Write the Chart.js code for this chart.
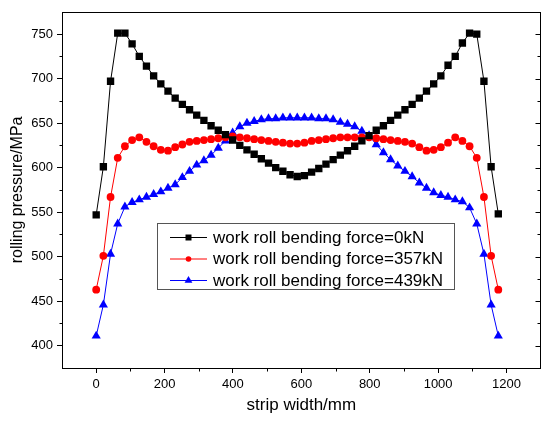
<!DOCTYPE html>
<html>
<head>
<meta charset="utf-8">
<script src="https://cdn.jsdelivr.net/npm/chart.js@4/dist/chart.umd.min.js"></script>
<style>
  body { margin: 0; background: #fff; }
  #wrap { width: 546px; height: 421px; }
</style>
</head>
<body>
<div id="wrap"><canvas id="rolling-pressure" width="546" height="421"></canvas></div>
<script>
// strip width positions (mm)
const widths = [0, 21, 42, 63, 84, 105, 126, 147, 168, 189, 210, 231, 252, 273, 294, 315, 336, 357, 378, 399,
  420, 441, 462, 483, 504, 525, 546, 567, 588, 609, 630, 651, 672, 693, 714, 735, 756, 777, 798, 819,
  840, 861, 882, 903, 924, 945, 966, 987, 1008, 1029, 1050, 1071, 1092, 1113, 1134, 1155, 1176];

// rolling pressure (MPa) for each bending force
const force0 = [547, 601, 697, 751, 751, 739, 725, 714, 703, 694, 686, 678, 671, 665, 659, 653, 647, 642, 637, 631,
  625, 620, 615, 610, 605, 600, 596, 592, 590, 591, 595, 599, 604, 609, 614, 619, 624, 630, 636, 642,
  647, 653, 659, 665, 671, 678, 686, 694, 703, 715, 725, 740, 751, 750, 697, 601, 548];
const force357 = [463, 501, 567, 611, 624, 631, 634, 629, 624, 620, 619, 623, 626, 629, 630, 631, 632, 633, 634, 635,
  634, 633, 632, 631, 630, 629, 628, 627, 627, 628, 630, 631, 632, 633, 634, 634, 634, 634, 634, 633,
  632, 631, 630, 629, 627, 623, 619, 620, 623, 628, 634, 630, 624, 611, 567, 501, 463];
const force439 = [411, 446, 503, 537, 556, 561, 564, 567, 570, 573, 577, 581, 589, 596, 603, 608, 614, 622, 630, 639,
  646, 650, 652, 654, 655, 655, 656, 656, 656, 656, 656, 655, 655, 654, 651, 649, 646, 641, 636, 626,
  617, 609, 602, 596, 590, 583, 577, 572, 569, 567, 564, 562, 555, 537, 503, 446, 411];

const seriesNames = ['work roll bending force=0kN', 'work roll bending force=357kN', 'work roll bending force=439kN'];
const xTicks = [0, 200, 400, 600, 800, 1000, 1200];
const yTicks = [400, 450, 500, 550, 600, 650, 700, 750];

const font = "Arial, 'Liberation Sans', sans-serif";

function pairs(values) {
  return values.map((v, i) => ({x: widths[i], y: v}));
}

function drawMarker(ctx, style, x, y, r) {
  ctx.beginPath();
  if (style === 'rect') {
    ctx.rect(x - r, y - r, 2 * r, 2 * r);
  } else if (style === 'triangle') {
    ctx.moveTo(x, y - r);
    ctx.lineTo(x + r * 0.866, y + r * 0.5);
    ctx.lineTo(x - r * 0.866, y + r * 0.5);
    ctx.closePath();
  } else {
    ctx.arc(x, y, r, 0, Math.PI * 2);
  }
  ctx.fill();
}

// box, minor ticks and right-side ticks, plus the legend inside the plot
const framePlugin = {
  id: 'frame',
  afterDraw(chart) {
    const {ctx, chartArea: a, scales: {x, y}} = chart;
    const L = Math.round(a.left) + 0.5, R = Math.round(a.right) - 0.5;
    const T = Math.round(a.top) + 0.5, B = Math.round(a.bottom) + 0.5;
    ctx.save();
    ctx.strokeStyle = '#000';
    ctx.lineWidth = 1;
    ctx.strokeRect(L, T, R - L, B - T);
    ctx.beginPath();
    for (let i = 0; i < xTicks.length - 1; i++) {
      const px = Math.round(x.getPixelForValue((xTicks[i] + xTicks[i + 1]) / 2)) + 0.5;
      ctx.moveTo(px, B); ctx.lineTo(px, B + 3);
    }
    for (let i = 0; i < yTicks.length; i++) {
      const py = Math.round(y.getPixelForValue(yTicks[i])) + 0.5;
      ctx.moveTo(R, py); ctx.lineTo(R - 5, py);
      const m = yTicks[i] + 25;
      if (m < y.max) {
        const pm = Math.round(y.getPixelForValue(m)) + 0.5;
        ctx.moveTo(L, pm); ctx.lineTo(L - 3, pm);
        ctx.moveTo(R, pm); ctx.lineTo(R - 3, pm);
      }
    }
    ctx.stroke();

    // legend box
    const bx = 157.5, by = 223.5, bw = 297, bh = 66;
    ctx.fillStyle = '#fff';
    ctx.fillRect(bx, by, bw, bh);
    ctx.strokeStyle = '#555';
    ctx.strokeRect(bx, by, bw, bh);
    const rows = [237, 258.5, 280];
    const markerR = [3, 2.8, 4.5];
    chart.data.datasets.forEach((ds, i) => {
      const ly = rows[i];
      ctx.strokeStyle = ds.borderColor;
      ctx.lineWidth = 1;
      ctx.beginPath();
      ctx.moveTo(170, ly + 0.5); ctx.lineTo(207, ly + 0.5);
      ctx.stroke();
      ctx.fillStyle = ds.pointBackgroundColor;
      drawMarker(ctx, ds.pointStyle, 188.5, ly + 0.5, markerR[i]);
      ctx.fillStyle = '#000';
      ctx.font = '17px ' + font;
      ctx.textBaseline = 'middle';
      ctx.textAlign = 'left';
      ctx.fillText(ds.label, 213, ly + 1);
    });
    ctx.restore();
  }
};

const styles = [
  {color: '#000000', point: 'rect', radius: 5.2},
  {color: '#ff0000', point: 'circle', radius: 3.9},
  {color: '#0000ff', point: 'triangle', radius: 5.3}
];

new Chart(document.getElementById('rolling-pressure'), {
  type: 'line',
  data: {
    datasets: [force0, force357, force439].map((vals, i) => ({
      label: seriesNames[i],
      data: pairs(vals),
      borderColor: styles[i].color,
      backgroundColor: styles[i].color,
      pointBackgroundColor: styles[i].color,
      pointBorderColor: styles[i].color,
      pointBorderWidth: 0,
      pointStyle: styles[i].point,
      pointRadius: styles[i].radius,
      borderWidth: 1,
      tension: 0
    }))
  },
  options: {
    responsive: false,
    animation: false,
    layout: {padding: {top: 5, right: 1, left: 0, bottom: 0}},
    plugins: {legend: {display: false}, tooltip: {enabled: false}},
    scales: {
      x: {
        type: 'linear',
        min: -100,
        max: 1300,
        afterBuildTicks: s => { s.ticks = xTicks.map(v => ({value: v})); },
        afterFit: s => { s.height = 53; },
        grid: {drawOnChartArea: false, tickLength: 5, color: '#000'},
        border: {display: false},
        ticks: {color: '#000', padding: 4, font: {family: font, size: 13}, callback: v => String(v)},
        title: {display: true, text: 'strip width/mm', color: '#000',
          font: {family: font, size: 17}, padding: {top: 0, bottom: 5}}
      },
      y: {
        min: 375,
        max: 775,
        afterBuildTicks: s => { s.ticks = yTicks.map(v => ({value: v})); },
        afterFit: s => { s.width = 62; },
        grid: {drawOnChartArea: false, tickLength: 5, color: '#000'},
        border: {display: false},
        ticks: {color: '#000', padding: 4, font: {family: font, size: 13}, callback: v => String(v)},
        title: {display: true, text: 'rolling pressure/MPa', color: '#000',
          font: {family: font, size: 16}, padding: {top: 7.5, bottom: 0}}
      }
    }
  },
  plugins: [framePlugin]
});
</script>
</body>
</html>
